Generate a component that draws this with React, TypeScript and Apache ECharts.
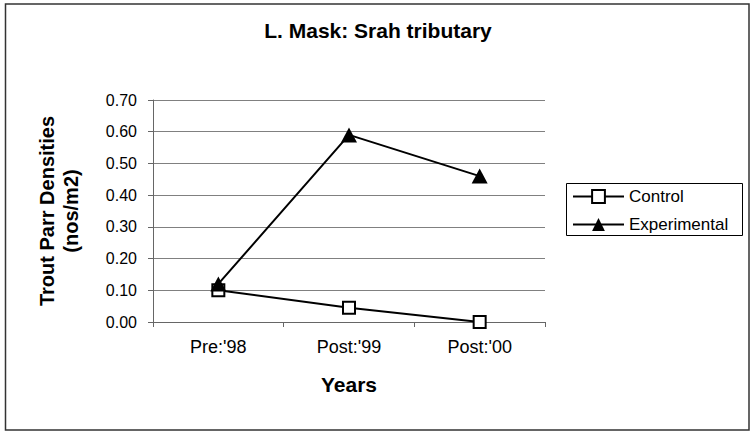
import React, { useEffect, useRef } from "react";
import * as echarts from "echarts";

const categories = ["Pre:'98", "Post:'99", "Post:'00"];
const controlValues = [0.1, 0.045, 0.0];
const experimentalValues = [0.12, 0.59, 0.46];
const yTicks = { min: 0, max: 0.7, interval: 0.1 };

const FONT = "'Liberation Sans', Arial, sans-serif";

export default function App() {
  const ref = useRef<HTMLDivElement>(null);

  useEffect(() => {
    if (!ref.current) return;
    const chart = echarts.init(ref.current, undefined, { renderer: "svg" });
    chart.setOption({
      animation: false,
      backgroundColor: "#ffffff",
      textStyle: { fontFamily: FONT, color: "#000" },
      title: {
        text: "L. Mask: Srah tributary",
        left: 378,
        textAlign: "center",
        top: 20,
        padding: 0,
        textStyle: { fontFamily: FONT, fontSize: 21, fontWeight: "bold", color: "#000" },
      },
      grid: { left: 153, right: 206, top: 100, bottom: 111, containLabel: false },
      legend: {
        orient: "vertical",
        left: 572,
        top: 188,
        itemWidth: 51,
        itemHeight: 16,
        itemGap: 11,
        padding: 0,
        textStyle: { fontFamily: FONT, fontSize: 17, color: "#000" },
        data: ["Control", "Experimental"],
      },
      xAxis: {
        type: "category",
        data: categories,
        boundaryGap: true,
        name: "Years",
        nameLocation: "middle",
        nameGap: 52,
        nameTextStyle: { fontFamily: FONT, fontSize: 21, fontWeight: "bold", color: "#000" },
        axisLine: { lineStyle: { color: "#666", width: 1 } },
        axisTick: { show: true, length: 5, inside: false, lineStyle: { color: "#666" } },
        axisLabel: { fontFamily: FONT, fontSize: 18, color: "#000", margin: 16 },
        splitLine: { show: false },
      },
      yAxis: {
        type: "value",
        min: yTicks.min,
        max: yTicks.max,
        interval: yTicks.interval,
        name: "Trout Parr Densities\n(nos/m2)",
        nameLocation: "middle",
        nameRotate: 90,
        nameGap: 70,
        nameTextStyle: {
          fontFamily: FONT,
          fontSize: 20,
          fontWeight: "bold",
          color: "#000",
          lineHeight: 24,
        },
        axisLine: { show: true, lineStyle: { color: "#666", width: 1 } },
        axisTick: { show: true, length: 5, lineStyle: { color: "#666" } },
        axisLabel: {
          fontFamily: FONT,
          fontSize: 16,
          color: "#000",
          margin: 16,
          formatter: (v: number) => v.toFixed(2),
        },
        splitLine: { show: true, lineStyle: { color: "#808080", width: 1 } },
      },
      graphic: [
        {
          type: "rect",
          shape: { x: 5.5, y: 4, width: 743.5, height: 426 },
          style: { fill: "none", stroke: "#333", lineWidth: 1.5 },
          silent: true,
          z: 100,
        },
        {
          type: "rect",
          shape: { x: 566.5, y: 183.5, width: 176, height: 52 },
          style: { fill: "none", stroke: "#000", lineWidth: 1 },
          silent: true,
          z: 100,
        },
      ],
      series: [
        {
          name: "Control",
          type: "line",
          data: controlValues,
          symbol: "rect",
          symbolSize: 12,
          lineStyle: { color: "#000", width: 2 },
          itemStyle: { color: "#fff", borderColor: "#000", borderWidth: 2 },
          z: 2,
        },
        {
          name: "Experimental",
          type: "line",
          data: experimentalValues,
          symbol: "triangle",
          symbolSize: [16, 15],
          lineStyle: { color: "#000", width: 2 },
          itemStyle: { color: "#000", borderColor: "#000", borderWidth: 0 },
          z: 3,
        },
      ],
    });
    return () => chart.dispose();
  }, []);

  return (
    <div
      ref={ref}
      style={{ position: "fixed", left: 0, top: 0, width: 751, height: 433 }}
    />
  );
}
